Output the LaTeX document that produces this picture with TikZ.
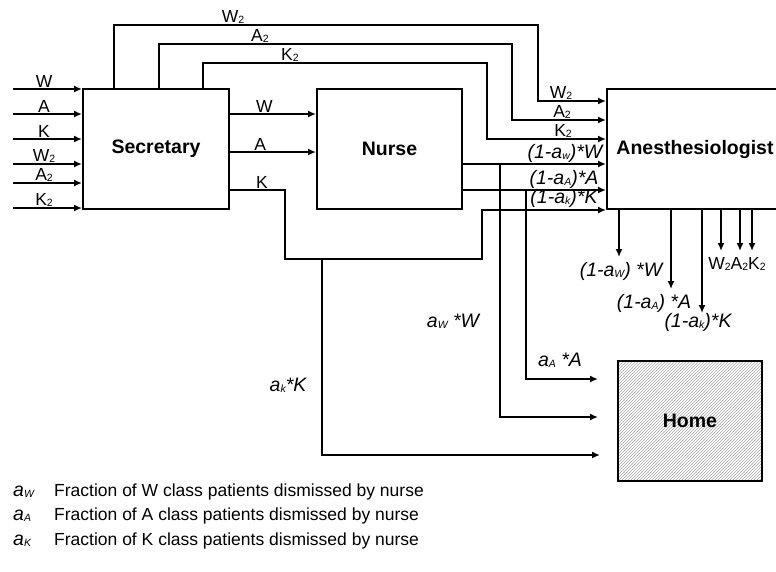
\documentclass[tikz,border=0pt]{standalone}
\usepackage{fontspec}
\setmainfont{Liberation Sans}
\usepackage{tikz}
\usetikzlibrary{positioning,patterns,arrows.meta}
\tikzstyle{block}=[rectangle, draw=black, line width=2pt, inner sep=0pt, minimum height=120pt, font=\bfseries\fontsize{19.5}{21}\selectfont]
\tikzstyle{arrow}=[-{Latex[length=8pt,width=7pt]}, line width=1.9pt]
\tikzstyle{lbl}=[inner sep=1pt, font=\fontsize{17.5}{19}\selectfont]
\tikzstyle{frac}=[inner sep=1pt, font=\itshape\fontsize{19.5}{21}\selectfont]
\newcommand{\sub}[1]{\raisebox{-1pt}{\fontsize{10.5}{11}\selectfont #1}}

\begin{document}
\begin{tikzpicture}[x=1pt, y=-1pt]
\useasboundingbox (0,0) rectangle (776,571);
\node[block, minimum width=146pt] (sec) at (156,149) {Secretary};
\node[block, minimum width=145pt] (nurse) at (389.5,149) {Nurse};
\node[block, minimum width=176pt] (anes) at (695,149) {Anesthesiologist};
\node[block, minimum width=144pt, pattern=north east lines, pattern color=gray!70] (home) at (690,421) {Home};

\foreach \y/\t [count=\i] in {89/W,114/A,139/K,164/W\sub{2},183/A\sub{2},208/K\sub{2}} {
  \coordinate (in\i) at (13,\y);
  \draw[arrow] (in\i) -- (in\i -| sec.west) node[lbl, above, pos=0.45] (lin\i) {\t};
}

\coordinate (topW) at (114,25);
\coordinate (topA) at (159,44);
\coordinate (topK) at (203,63);
\coordinate (dropW) at (538,101);
\coordinate (dropA) at (512,120);
\coordinate (dropK) at (487,139);
\draw[arrow] (topW |- sec.north) -- (topW) -| (dropW) -- (dropW -| anes.west);
\draw[arrow] (topA |- sec.north) -- (topA) -| (dropA) -- (dropA -| anes.west);
\draw[arrow] (topK |- sec.north) -- (topK) -| (dropK) -- (dropK -| anes.west);
\node[lbl, above] (ltW) at (233,25) {W\sub{2}};
\node[lbl, above] (ltA) at (260,44) {A\sub{2}};
\node[lbl, above] (ltK) at (290,63) {K\sub{2}};
\node[lbl, above] (ldW) at (561,101) {W\sub{2}};
\node[lbl, above] (ldA) at (562,120) {A\sub{2}};
\node[lbl, above] (ldK) at (563,139) {K\sub{2}};

\coordinate (rowW) at (0,114);
\coordinate (rowA) at (0,152);
\draw[arrow] (sec.east |- rowW) -- (nurse.west |- rowW) node[lbl, above, pos=0.4] (lsW) {W};
\draw[arrow] (sec.east |- rowA) -- (nurse.west |- rowA) node[lbl, above, pos=0.35] (lsA) {A};

\coordinate (kbend) at (285,190);
\coordinate (kdown) at (482,259);
\coordinate (kbranch) at (322,259);
\draw[arrow] (sec.east |- kbend) -- (kbend) |- (kdown) |- (anes.south west);
\node[lbl, above] (lsK) at (262,190) {K};

\coordinate (wsplit) at (500,164);
\coordinate (asplit) at (526,190);
\draw[arrow] (nurse.east |- wsplit) -- (anes.west |- wsplit);
\draw[arrow] (nurse.east |- asplit) -- (anes.west |- asplit);
\node[frac, above] (lnW) at (565,164) {(1-a\sub{w})*W};
\node[frac, above] (lnA) at (564,190) {(1-a\sub{A})*A};
\node[frac, above] (lnK) at (564,209) {(1-a\sub{k})*K};

\coordinate (hA) at (598,379);
\coordinate (hW) at (598,417);
\coordinate (hK) at (600,455);
\draw[arrow] (asplit) |- (hA);
\draw[arrow] (wsplit) |- (hW);
\draw[arrow] (kbranch) |- (hK);
\node[frac] (haA) at (560,360) {a\sub{A} *A};
\node[frac] (haW) at (453,321) {a\sub{W} *W};
\node[frac] (haK) at (288,385) {a\sub{k}*K};

\foreach \x/\y [count=\i] in {619/257,671/289,702/313,721/251,740/251,752/251} {
  \coordinate (out\i) at (\x,\y);
  \draw[arrow] (out\i |- anes.south) -- (out\i);
}
\node[frac] (loW) at (621,271) {(1-a\sub{W}) *W};
\node[frac] (loA) at (654,303) {(1-a\sub{A}) *A};
\node[frac] (loK) at (698,322) {(1-a\sub{k})*K};
\node[lbl, inner sep=0pt] (lo2) at (737,264) {W\sub{2}A\sub{2}K\sub{2}};

\foreach \y/\c [count=\i] in {492/W,516/A,541/K} {
  \node[frac, anchor=west] (key\i) at (12,\y) {a\sub{\c}};
  \node[lbl, anchor=west] (txt\i) at (53,\y) {Fraction of \c\ class patients dismissed by nurse};
}
\end{tikzpicture}
\end{document}
